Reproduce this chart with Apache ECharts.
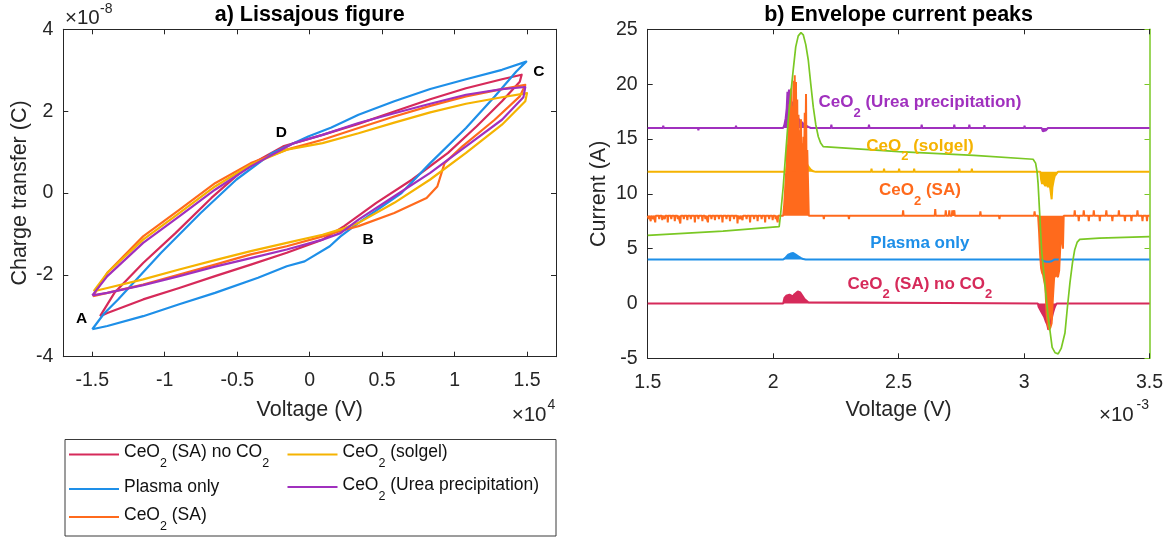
<!DOCTYPE html>
<html><head><meta charset="utf-8">
<script src="https://cdn.jsdelivr.net/npm/echarts@6/dist/echarts.min.js"></script>
<style>html,body{margin:0;padding:0;background:#fff;}#c{width:1172px;height:537px;}</style>
</head><body><div id="c"></div>
<script>
// ---------- names ----------
const seriesNames = ['CeO₂ (SA) no CO₂', 'Plasma only', 'CeO₂ (SA)', 'CeO₂ (solgel)', 'CeO₂ (Urea precipitation)'];
const voltageName = 'Voltage';

// ---------- tick labels ----------
const lissXTicks = [-1.5, -1, -0.5, 0, 0.5, 1, 1.5];
const lissYTicks = [-4, -2, 0, 2, 4];

// ---------- a) Lissajous loops  (x: V ×1e4, y: C ×1e-8) ----------
const loopNoCO2 = [[-1.446,-3.01],[-1.347,-2.44],[-1.149,-1.71],[-0.926,-0.98],[-0.678,-0.12],[-0.431,0.65],[-0.183,1.14],[0.089,1.42],[0.337,1.69],[0.584,1.99],[0.832,2.29],[1.079,2.56],[1.327,2.78],[1.463,2.89],[1.45,2.72],[1.327,2.24],[1.153,1.63],[0.955,0.98],[0.708,0.33],[0.46,-0.24],[0.238,-0.81],[0.089,-1.14],[-0.158,-1.46],[-0.406,-1.75],[-0.653,-2.03],[-0.90,-2.32],[-1.149,-2.60],[-1.396,-2.93],[-1.446,-3.01]];
const loopPlasma = [[-1.5,-3.33],[-1.42,-2.95],[-1.322,-2.60],[-1.025,-1.46],[-0.752,-0.49],[-0.505,0.33],[-0.257,0.98],[-0.01,1.38],[0.15,1.60],[0.337,1.91],[0.584,2.24],[0.832,2.54],[1.079,2.78],[1.327,3.01],[1.495,3.21],[1.426,2.97],[1.277,2.36],[1.079,1.59],[0.832,0.73],[0.634,0.0],[0.337,-0.73],[0.213,-1.06],[0.139,-1.30],[-0.035,-1.67],[-0.158,-1.79],[-0.356,-2.07],[-0.653,-2.44],[-0.90,-2.72],[-1.149,-3.01],[-1.396,-3.25],[-1.5,-3.33]];
const loopSA = [[-1.495,-2.52],[-1.396,-1.95],[-1.149,-1.06],[-0.90,-0.41],[-0.653,0.24],[-0.406,0.73],[-0.158,1.06],[0.089,1.30],[0.337,1.59],[0.584,1.87],[0.832,2.13],[1.079,2.36],[1.327,2.54],[1.488,2.64],[1.45,2.36],[1.277,1.79],[1.054,1.14],[0.931,0.73],[0.881,0.16],[0.807,-0.12],[0.584,-0.49],[0.337,-0.81],[0.213,-0.93],[0.089,-1.06],[-0.158,-1.30],[-0.406,-1.50],[-0.653,-1.75],[-0.90,-1.99],[-1.149,-2.24],[-1.396,-2.44],[-1.495,-2.52]];
const loopSolgel = [[-1.49,-2.40],[-1.396,-1.95],[-1.149,-1.14],[-0.90,-0.49],[-0.653,0.16],[-0.406,0.69],[-0.158,1.06],[0.089,1.22],[0.337,1.46],[0.584,1.72],[0.832,1.97],[1.079,2.18],[1.327,2.34],[1.50,2.44],[1.488,2.24],[1.327,1.67],[1.079,0.98],[0.832,0.33],[0.584,-0.24],[0.337,-0.73],[0.213,-0.89],[0.089,-1.02],[-0.158,-1.22],[-0.406,-1.42],[-0.653,-1.64],[-0.90,-1.87],[-1.149,-2.11],[-1.396,-2.32],[-1.49,-2.40]];
const loopUrea = [[-1.5,-2.50],[-1.396,-2.03],[-1.149,-1.22],[-0.90,-0.57],[-0.653,0.08],[-0.406,0.65],[-0.109,1.22],[0.089,1.42],[0.337,1.71],[0.584,1.95],[0.832,2.18],[1.079,2.40],[1.327,2.54],[1.488,2.59],[1.475,2.34],[1.327,1.79],[1.079,1.14],[0.832,0.49],[0.584,-0.08],[0.337,-0.65],[0.213,-0.98],[0.089,-1.14],[-0.158,-1.38],[-0.406,-1.59],[-0.653,-1.80],[-0.90,-2.03],[-1.149,-2.25],[-1.396,-2.44],[-1.5,-2.50]];

// ---------- b) Envelope current peaks (x: V ×1e-3, y: A) ----------
const peaksNoCO2 = [[1.5,0],[2.040,0],[2.045,0.5],[2.052,0.7],[2.058,0.6],[2.065,0.8],[2.072,0.7],[2.079,0.65],[2.085,0.85],[2.092,0.9],[2.098,1.1],[2.104,1.25],[2.108,1.0],[2.112,1.15],[2.118,0.65],[2.125,0.4],[2.132,0.3],[2.140,0.1],[2.145,0],[3.055,0],[3.058,-0.3],[3.065,-0.6],[3.072,-0.9],[3.080,-1.2],[3.086,-1.6],[3.092,-1.9],[3.097,-2.4],[3.101,-2.2],[3.105,-1.8],[3.110,-1.4],[3.115,-0.9],[3.120,-0.5],[3.125,-0.2],[3.130,0],[3.5,0]];
const peaksPlasma = [[1.5,4],[2.040,4],[2.050,4.2],[2.060,4.45],[2.070,4.55],[2.080,4.6],[2.090,4.45],[2.100,4.3],[2.110,4.15],[2.120,4.05],[2.130,4],[3.070,4],[3.080,3.85],[3.090,3.8],[3.100,3.8],[3.110,3.85],[3.120,4],[3.5,4]];
const peaksSA = [[1.500,8.0],[1.504,7.7],[1.506,8.0],[1.510,8.0],[1.512,7.5],[1.514,8.0],[1.520,8.0],[1.522,7.7],[1.524,8.0],[1.528,8.0],[1.530,7.4],[1.532,8.0],[1.544,8.0],[1.546,7.7],[1.548,8.0],[1.556,8.0],[1.558,7.6],[1.560,8.0],[1.566,8.0],[1.568,7.7],[1.570,8.0],[1.578,8.0],[1.580,7.4],[1.582,8.0],[1.592,8.0],[1.594,7.7],[1.596,8.0],[1.606,8.0],[1.608,7.5],[1.610,8.0],[1.618,8.0],[1.620,7.7],[1.622,8.0],[1.628,8.0],[1.630,7.3],[1.632,8.0],[1.642,8.0],[1.644,7.7],[1.646,8.0],[1.656,8.0],[1.658,7.6],[1.660,8.0],[1.670,8.0],[1.672,7.7],[1.674,8.0],[1.686,8.0],[1.688,7.4],[1.690,8.0],[1.700,8.0],[1.702,7.7],[1.704,8.0],[1.716,8.0],[1.718,7.5],[1.720,8.0],[1.728,8.0],[1.730,7.7],[1.732,8.0],[1.738,8.0],[1.740,7.4],[1.742,8.0],[1.752,8.0],[1.754,7.7],[1.756,8.0],[1.766,8.0],[1.768,7.6],[1.770,8.0],[1.782,8.0],[1.784,7.7],[1.786,8.0],[1.796,8.0],[1.798,7.4],[1.800,8.0],[1.812,8.0],[1.814,7.7],[1.816,8.0],[1.826,8.0],[1.828,7.5],[1.830,8.0],[1.842,8.0],[1.844,7.7],[1.846,8.0],[1.856,8.0],[1.858,7.3],[1.860,8.0],[1.866,8.0],[1.868,7.7],[1.870,8.0],[1.876,8.0],[1.878,7.6],[1.880,8.0],[1.892,8.0],[1.894,7.7],[1.896,8.0],[1.906,8.0],[1.908,7.4],[1.910,8.0],[1.922,8.0],[1.924,7.7],[1.926,8.0],[1.936,8.0],[1.938,7.5],[1.940,8.0],[1.952,8.0],[1.954,7.7],[1.956,8.0],[1.966,8.0],[1.968,7.4],[1.970,8.0],[1.982,8.0],[1.984,7.7],[1.986,8.0],[1.996,8.0],[1.998,7.6],[2.000,8.0],[2.008,8.0],[2.010,7.7],[2.012,8.0],[2.016,8.0],[2.018,7.4],[2.020,8.0],
[2.040,8.0],[2.044,9.0],[2.048,10.5],[2.051,11.8],[2.054,12.0],[2.056,14.5],[2.058,12.0],[2.061,16.5],[2.063,12.0],[2.066,18.2],[2.068,12.0],[2.071,19.6],[2.073,12.0],[2.076,18.0],[2.078,12.0],[2.081,20.3],[2.083,12.0],[2.086,20.8],[2.088,12.0],[2.091,20.2],[2.093,12.0],[2.096,18.6],[2.098,12.0],[2.101,17.2],[2.103,12.0],[2.106,15.8],[2.108,12.0],[2.111,16.8],[2.113,12.0],[2.116,14.6],[2.118,12.0],[2.121,15.2],[2.123,12.0],[2.126,17.4],[2.128,12.0],[2.131,19.1],[2.133,12.0],[2.136,14.0],[2.138,12.0],[2.141,12.0],[2.142,8.0],
[2.200,8.0],[2.202,7.7],[2.204,8.0],[2.300,8.0],[2.302,7.7],[2.304,8.0],[2.516,8.0],[2.518,8.5],[2.520,8.0],[2.644,8.0],[2.646,8.6],[2.648,8.0],[2.686,8.0],[2.688,8.5],[2.690,8.0],[2.700,8.0],[2.702,8.5],[2.704,8.0],[2.712,8.0],[2.714,8.5],[2.716,8.0],[2.720,8.0],[2.722,8.5],[2.724,8.0],[2.824,8.0],[2.826,8.4],[2.828,8.0],[2.900,8.0],[2.902,7.7],[2.904,8.0],[3.040,8.0],[3.042,8.4],[3.044,8.0],
[3.056,8.0],[3.060,6.5],[3.064,4.5],[3.068,3.2],[3.072,2.8],[3.076,2.6],[3.080,2.5],[3.085,1.5],[3.090,-1.0],[3.095,-2.0],[3.100,-2.4],[3.105,-2.2],[3.110,-1.8],[3.115,0.5],[3.120,2.4],[3.125,2.5],[3.130,2.6],[3.135,2.4],[3.140,3.0],[3.145,5.5],[3.150,6.0],[3.155,5.0],[3.158,8.0],
[3.200,8.0],[3.202,8.5],[3.204,8.0],[3.216,8.0],[3.218,7.5],[3.220,8.0],[3.236,8.0],[3.238,8.5],[3.240,8.0],[3.256,8.0],[3.258,7.5],[3.260,8.0],[3.276,8.0],[3.278,8.5],[3.280,8.0],[3.300,8.0],[3.302,7.5],[3.304,8.0],[3.326,8.0],[3.328,8.5],[3.330,8.0],[3.350,8.0],[3.352,7.5],[3.354,8.0],[3.376,8.0],[3.378,8.5],[3.380,8.0],[3.400,8.0],[3.402,7.5],[3.404,8.0],[3.426,8.0],[3.428,7.5],[3.430,8.0],[3.450,8.0],[3.452,8.5],[3.454,8.0],[3.470,8.0],[3.472,7.5],[3.474,8.0],[3.488,8.0],[3.490,7.5],[3.492,8.0],[3.500,8.0]];
const peaksSolgel = [[1.500,12.0],[2.050,12.0],[2.055,12.6],[2.060,13.6],[2.065,15.0],[2.070,15.9],[2.075,16.0],[2.085,16.0],[2.090,15.6],[2.095,15.1],[2.100,14.7],[2.110,14.0],[2.120,13.4],[2.130,12.9],[2.140,12.5],[2.150,12.2],[2.160,12.05],[2.170,12.0],[2.390,12.0],[2.392,12.3],[2.394,12.0],[2.440,12.0],[2.442,12.3],[2.444,12.0],[2.500,12.0],[2.502,12.3],[2.504,12.0],[2.560,12.0],[2.562,12.3],[2.564,12.0],[2.740,12.0],[2.742,12.3],[2.744,12.0],[2.790,12.0],[2.792,12.3],[2.794,12.0],[3.065,12.0],[3.068,11.3],[3.072,10.9],[3.076,11.3],[3.080,10.9],[3.085,10.7],[3.090,11.1],[3.095,10.6],[3.100,11.0],[3.105,10.4],[3.110,9.5],[3.113,10.6],[3.118,11.2],[3.122,11.6],[3.128,11.8],[3.135,12.0],[3.500,12.0]];
const peaksUrea = [[1.500,16.0],[1.560,16.0],[1.562,16.2],[1.564,16.0],[1.700,16.0],[1.702,15.8],[1.704,16.0],[1.850,16.0],[1.852,16.2],[1.854,16.0],[2.040,16.0],[2.045,16.3],[2.050,16.9],[2.054,17.8],[2.057,19.3],[2.060,18.0],[2.063,19.5],[2.066,18.3],[2.069,18.9],[2.072,17.9],[2.076,18.4],[2.080,17.7],[2.085,17.6],[2.090,17.4],[2.095,17.2],[2.100,16.9],[2.105,16.7],[2.110,16.6],[2.120,16.4],[2.130,16.25],[2.140,16.1],[2.150,16.0],[2.230,16.0],[2.232,16.3],[2.234,16.0],[2.380,16.0],[2.382,16.3],[2.384,16.0],[2.590,16.0],[2.592,16.3],[2.594,16.0],[2.720,16.0],[2.722,16.3],[2.724,16.0],[2.780,16.0],[2.782,16.3],[2.784,16.0],[2.840,16.0],[2.842,16.25],[2.844,16.0],[3.000,16.0],[3.002,16.2],[3.004,16.0],[3.070,16.0],[3.075,15.7],[3.082,15.6],[3.088,15.8],[3.095,16.0],[3.500,16.0]];
const voltageTrace = [[1.5,6.2],[1.8,6.6],[2.024,7.0],[2.030,8.2],[2.040,10.6],[2.050,13.7],[2.060,16.7],[2.070,19.1],[2.080,21.3],[2.090,23.4],[2.100,24.4],[2.111,24.7],[2.120,24.5],[2.130,23.6],[2.140,22.2],[2.150,20.0],[2.160,17.9],[2.170,16.3],[2.180,15.2],[2.190,14.6],[2.200,14.3],[2.500,13.85],[2.800,13.5],[3.036,13.15],[3.046,12.8],[3.052,12.0],[3.056,10.9],[3.063,7.9],[3.070,4.9],[3.083,1.8],[3.096,-1.2],[3.112,-4.0],[3.124,-4.5],[3.136,-4.6],[3.148,-4.1],[3.163,-2.7],[3.173,-0.3],[3.183,1.9],[3.193,3.7],[3.202,4.9],[3.212,5.6],[3.222,5.85],[3.300,5.95],[3.500,6.1]];

// annotation anchors (data coords of label centre)
const pointLabels = [['A',-1.574,-3.06],['B',0.404,-1.13],['C',1.582,2.96],['D',-0.195,1.47]];
const peakLabels = [[4,2.585,18.16],[3,2.585,14.23],[2,2.585,10.17],[1,2.585,5.38],[0,2.585,1.65]];

// ---------- styles ----------
const COLORS = ['#D62A5A', '#1E8FE8', '#FF6A1C', '#F5B301', '#A030BE'];
const GREEN = '#7AC824';
const AX = '#262626';
const FONT = '"Liberation Sans", Arial, Helvetica, sans-serif';
const TICK = 19.5;

function richName(name){
  const parts = name.split('₂');
  return parts.map((p,i)=> (p ? '{m|'+p+'}' : '') + (i < parts.length-1 ? '{s|2}' : '')).join('');
}

const chart = echarts.init(document.getElementById('c'), null, {renderer:'canvas'});

function xAx(grid, pos, opts){
  return Object.assign({
    gridIndex: grid, type:'value', position: pos,
    axisLine:{show:true, onZero:false, lineStyle:{color:AX, width:1}},
    axisTick:{show:true, inside:true, length:5, lineStyle:{color:AX, width:1}},
    axisLabel:{show: pos==='bottom', color:AX, fontSize:TICK, fontFamily:FONT, margin:14},
    splitLine:{show:false}
  }, opts);
}
function yAx(grid, pos, opts){
  return Object.assign({
    gridIndex: grid, type:'value', position: pos,
    axisLine:{show:true, onZero:false, lineStyle:{color:AX, width:1}},
    axisTick:{show:true, inside:true, length:5, lineStyle:{color:AX, width:1}},
    axisLabel:{show: pos==='left', color:AX, fontSize:TICK, fontFamily:FONT, margin:10},
    splitLine:{show:false}
  }, opts);
}

const lissX = {min:-1.7, max:1.7};
const xAxes = [
  xAx(0,'bottom', Object.assign({}, lissX, {axisTick:{show:true,inside:true,length:5,lineStyle:{color:AX},customValues:lissXTicks}, axisLabel:{show:true,color:AX,fontSize:TICK,fontFamily:FONT,margin:14,customValues:lissXTicks}})),
  xAx(0,'top', Object.assign({}, lissX, {axisTick:{show:true,inside:true,length:5,lineStyle:{color:AX},customValues:lissXTicks}, axisLabel:{show:false}})),
  xAx(1,'bottom', {min:1.5, max:3.5, interval:0.5}),
  xAx(1,'top', {min:1.5, max:3.5, interval:0.5})
];
const yAxes = [
  yAx(0,'left', {min:-4, max:4, interval:2}),
  yAx(0,'right', {min:-4, max:4, interval:2}),
  yAx(1,'left', {min:-5, max:25, interval:5}),
  yAx(1,'right', {min:-5, max:25, interval:5,
     axisLine:{show:true,onZero:false,lineStyle:{color:GREEN,width:1.5}},
     axisTick:{show:true,inside:true,length:5,lineStyle:{color:GREEN,width:1}}})
];

const loops = [loopNoCO2, loopPlasma, loopSA, loopSolgel, loopUrea];
const peaks = [peaksNoCO2, peaksPlasma, peaksSA, peaksSolgel, peaksUrea];
const baselines = [0, 4, 8, 12, 16];
const peakOrder = [0, 1, 3, 4, 2];

const series = [];
loops.forEach((d,i)=> series.push({
  name: seriesNames[i], type:'line', xAxisIndex:0, yAxisIndex:0, data:d,
  symbol:'none', smooth:false, lineStyle:{color:COLORS[i], width:2.2, join:'round'}, itemStyle:{color:COLORS[i]},
  silent:true, animation:false
}));
peakOrder.forEach(i=> series.push({
  name: seriesNames[i], type:'line', xAxisIndex:2, yAxisIndex:2, data:peaks[i],
  symbol:'none', lineStyle:{color:COLORS[i], width:2}, itemStyle:{color:COLORS[i]},
  areaStyle:{origin: baselines[i], color:COLORS[i], opacity:1},
  silent:true, animation:false
}));
series.push({
  name: voltageName, type:'line', xAxisIndex:2, yAxisIndex:3, data:voltageTrace,
  symbol:'none', lineStyle:{color:GREEN, width:1.7}, itemStyle:{color:GREEN},
  silent:true, animation:false
});

const legendRich = {
  m:{fontSize:17.5, fontFamily:FONT, color:'#111', lineHeight:22, verticalAlign:'top'},
  s:{fontSize:12.5, fontFamily:FONT, color:'#111', lineHeight:12, verticalAlign:'top', padding:[14,0,0,0]}
};
const legendPos = [[69,443.5],[69,478],[69,506],[287.5,443.5],[287.5,476]];
const legends = seriesNames.map((n,i)=>({
  data:[n], orient:'vertical', left:legendPos[i][0], top:legendPos[i][1], padding:0,
  icon:'rect', itemWidth:50, itemHeight:2, itemGap:0, selectedMode:false,
  formatter: richName, textStyle:{rich:legendRich, fontFamily:FONT}
}));

chart.setOption({
  animation:false,
  backgroundColor:'#fff',
  textStyle:{fontFamily:FONT},
  grid:[
    {left:63.3, top:29.3, width:492.7, height:327.4},
    {left:647.7, top:29.3, width:501.8, height:329}
  ],
  xAxis:xAxes, yAxis:yAxes, legend:legends, series:series
});

// ---------- texts placed with the chart's own scales ----------
const g = [];
function txt(text, x, y, size, opts){
  g.push(Object.assign({type:'text', silent:true, style:Object.assign({text:text, x:x, y:y, fill:AX,
    font:(opts&&opts.bold?'bold ':'') + size + 'px ' + FONT, align:'left', verticalAlign:'middle'}, opts&&opts.style)}, opts&&opts.el));
}
txt('a) Lissajous figure', 309.7, 15, 21.5, {bold:true, style:{align:'center', fill:'#000'}});
txt('b) Envelope current peaks', 898.6, 15, 21.5, {bold:true, style:{align:'center', fill:'#000'}});
txt('Voltage (V)', 309.7, 410, 21.5, {style:{align:'center'}});
txt('Voltage (V)', 898.6, 410, 21.5, {style:{align:'center'}});
g.push({type:'text', silent:true, x:19.7, y:193, rotation:Math.PI/2,
  style:{text:'Charge transfer (C)', x:0, y:0, fill:AX, font:'21.5px '+FONT, align:'center', verticalAlign:'middle'}});
g.push({type:'text', silent:true, x:599, y:193.8, rotation:Math.PI/2,
  style:{text:'Current (A)', x:0, y:0, fill:AX, font:'21.5px '+FONT, align:'center', verticalAlign:'middle'}});
// exponent labels
txt('×10', 65, 18.5, 20.5);
txt('-8', 100, 9, 14);
txt('×10', 546.5, 415, 20.5, {style:{align:'right'}});
txt('4', 547.5, 405, 14);
txt('×10', 1099, 415, 20.5);
txt('-3', 1136.5, 405, 14);
// legend box
g.push({type:'rect', silent:true, z:-1, shape:{x:65, y:439.5, width:491, height:96.5},
  style:{fill:'#fff', stroke:'#3a3a3a', lineWidth:1}});
// A B C D
pointLabels.forEach(p=>{
  const px = chart.convertToPixel({gridIndex:0}, [p[1], p[2]]);
  txt(p[0], px[0], px[1], 15.5, {bold:true, style:{align:'center', fill:'#000'}});
});
// peak labels with subscripts
peakLabels.forEach(p=>{
  const i = p[0];
  const px = chart.convertToPixel({gridIndex:1}, [p[1], p[2]]);
  g.push({type:'text', silent:true, z:50, style:{
    text: richName(seriesNames[i]), x:px[0], y:px[1]-10, align:'center', verticalAlign:'top',
    fill:COLORS[i], font:'bold 17px '+FONT,
    rich:{
      m:{fill:COLORS[i], font:'bold 17px '+FONT, fontSize:17, fontWeight:'bold', fontFamily:FONT, lineHeight:20, verticalAlign:'top'},
      s:{fill:COLORS[i], font:'bold 13px '+FONT, fontSize:13, fontWeight:'bold', fontFamily:FONT, lineHeight:13, verticalAlign:'top', padding:[13,0,0,0]}
    }
  }});
});
chart.setOption({graphic:{elements:g}});
</script>
</body></html>
